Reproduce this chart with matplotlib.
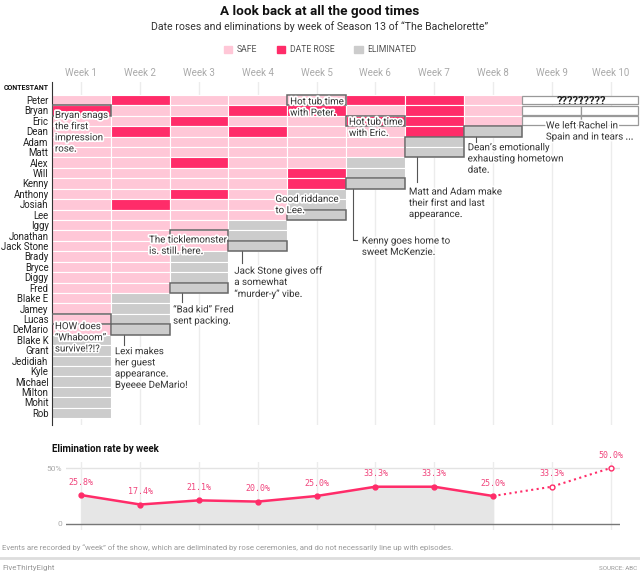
import matplotlib
matplotlib.use("Agg")
import matplotlib.pyplot as plt
import matplotlib.patheffects as pe
from matplotlib.patches import Patch, Rectangle

# =============================================================================
# Data
# =============================================================================

WEEKS = [f"Week {i}" for i in range(1, 11)]

CONTESTANTS = ["Peter", "Bryan", "Eric", "Dean", "Adam", "Matt", "Alex", "Will",
               "Kenny", "Anthony", "Josiah", "Lee", "Iggy", "Jonathan",
               "Jack Stone", "Brady", "Bryce", "Diggy", "Fred", "Blake E",
               "Jamey", "Lucas", "DeMario", "Blake K", "Grant", "Jedidiah",
               "Kyle", "Michael", "Milton", "Mohit", "Rob"]

# week each contestant was eliminated (None = still in after week 8)
ELIM_WEEK = [None, None, None, 8, 7, 7, 6, 6, 6, 5, 5, 5, 4, 4, 4, 3, 3, 3, 3,
             2, 2, 2, 2, 1, 1, 1, 1, 1, 1, 1, 1]

DATE_ROSES = {
    1: ["Bryan"],
    2: ["Peter", "Dean", "Josiah"],
    3: ["Eric", "Alex", "Anthony"],
    4: ["Bryan", "Dean"],
    5: ["Bryan", "Will", "Kenny"],
    6: ["Peter", "Eric"],
    7: ["Peter", "Bryan", "Eric", "Dean"],
    8: [],
}
LAST_KNOWN_WEEK = 8

ELIM_RATE = [25.8, 17.4, 21.1, 20.0, 25.0, 33.3, 33.3, 25.0, 33.3, 50.0]

# annotations: (week, contestant, n rows, text, text x, text y, leader)
NOTES = [
    (1, "Bryan", 1, "Bryan snags\nthe first\nimpression\nrose.", 0.05, 1.45, None),
    (1, "Lucas", 1, "HOW does\n\u201cWhaboom\u201d\nsurvive!?!?", 0.05, 21.7, None),
    (2, "DeMario", 1, "Lexi makes\nher guest\nappearance.\nByeeee DeMario!", 1.07, 24.1, (1.22, 24.0)),
    (3, "Jonathan", 1, "The ticklemonster\nis. still. here.", 1.65, 13.4, None),
    (3, "Fred", 1, "\u201cBad kid\u201d Fred\nsent packing.", 2.06, 20.1, (2.21, 19.9)),
    (4, "Jack Stone", 1, "Jack Stone gives off\na somewhat\n\u201cmurder-y\u201d vibe.", 3.1, 16.3, (3.23, 16.1)),
    (5, "Lee", 1, "Good riddance\nto Lee.", 3.8, 9.5, None),
    (5, "Peter", 1, "Hot tub time\nwith Peter.", 4.05, 0.15, None),
    (6, "Eric", 1, "Hot tub time\nwith Eric.", 5.05, 2.1, None),
    (6, "Kenny", 1, "Kenny goes home to\nsweet McKenzie.", 5.27, 13.5, (5.12, 13.9)),
    (7, "Adam", 2, "Matt and Adam make\ntheir first and last\nappearance.", 6.07, 8.8, (6.21, 8.4)),
    (8, "Dean", 1, "Dean\u2019s emotionally\nexhausting hometown\ndate.", 7.07, 4.55, (7.21, 4.5)),
]

# =============================================================================
# Styles
# =============================================================================

SAFE = "#ffc7d7"
ROSE = "#ff2c69"
ELIM = "#cccccc"
LINE = "#ff2c69"
TEXT = "#333333"
plt.rcParams["font.family"] = ["Roboto", "DejaVu Sans"]

W, H = 640, 576
fig = plt.figure(figsize=(W / 100, H / 100), dpi=100)


def fx(px):
    return px / W


def fy(py):
    return 1 - py / H


halo = [pe.withStroke(linewidth=2.5, foreground="white")]

# header
fig.text(0.5, fy(11), "A look back at all the good times", ha="center",
         va="center", fontsize=9.7, fontweight="bold", color="#111")
fig.text(0.5, fy(27), "Date roses and eliminations by week of Season 13 of "
         "\u201cThe Bachelorette\u201d", ha="center", va="center",
         fontsize=7.6, color="#333")
handles = [Patch(color=SAFE, label="SAFE"), Patch(color=ROSE, label="DATE ROSE"),
           Patch(color=ELIM, label="ELIMINATED")]
fig.legend(handles=handles, loc="center", bbox_to_anchor=(0.5, fy(50)), ncol=3,
           frameon=False, fontsize=6.2, handlelength=1.0, handleheight=1.0,
           columnspacing=2.3, handletextpad=0.5, labelcolor="#555")

# =============================================================================
# Grid of contestants x weeks
# =============================================================================

ax = fig.add_axes([fx(52), fy(425), fx(640 - 52), (425 - 82) / H])
ax.set_xlim(0, 10)
ax.set_ylim(31.66, -1.23)

for w in range(1, 11):
    for i, (name, e) in enumerate(zip(CONTESTANTS, ELIM_WEEK)):
        last = e if e else LAST_KNOWN_WEEK
        if w <= last:
            if w == e:
                color = ELIM
            elif name in DATE_ROSES[w]:
                color = ROSE
            else:
                color = SAFE
            ax.barh(i + 0.5, 1, left=w - 1, height=1, color=color,
                    edgecolor="white", linewidth=0.8, zorder=2)
        elif e is None:
            ax.barh(i + 0.5, 0.97 if w == 10 else 1, left=w - 1, height=0.85,
                    color="white", edgecolor="#999", linewidth=0.9, zorder=2)

ax.text(9.0, 0.55, "?????????", ha="center", va="center", fontsize=8,
        fontweight="bold", color="#222", zorder=5)
ax.text(8.4, 2.45, "We left Rachel in\nSpain and in tears ...", ha="left",
        va="top", fontsize=7, color=TEXT, linespacing=1.15, zorder=5,
        path_effects=halo)

for w, name, n, text, tx, ty, leader in NOTES:
    r = CONTESTANTS.index(name)
    ax.add_patch(Rectangle((w - 1, r), 1, n, fill=False, edgecolor="#666",
                           linewidth=1.1, zorder=4))
    if leader:
        lx, ly = leader
        if name == "Kenny":
            ax.plot([lx, lx, tx - 0.08], [r + n, ly, ly], color="#555", lw=0.8, zorder=3)
        else:
            ax.plot([lx, lx], [r + n, ly], color="#555", lw=0.8, zorder=3)
    ax.text(tx, ty, text, ha="left", va="top", fontsize=7, color=TEXT,
            linespacing=1.15, zorder=5, path_effects=halo)

ax.set_xticks([w + 0.5 for w in range(10)])
ax.set_xticklabels(WEEKS)
ax.xaxis.tick_top()
ax.tick_params(axis="x", length=0, pad=3, labelsize=7, labelcolor="#aaa")
ax.set_yticks([i + 0.5 for i in range(len(CONTESTANTS))])
ax.set_yticklabels(CONTESTANTS)
ax.tick_params(axis="y", length=0, pad=2.5, labelsize=6.9, labelcolor="#222")
ax.grid(axis="x", color="#ececec", linewidth=1)
ax.set_axisbelow(True)
for s in ["top", "right", "bottom"]:
    ax.spines[s].set_visible(False)
ax.spines["left"].set_color("#333")
fig.text(fx(49), fy(88), "CONTESTANT", ha="right", va="center", fontsize=5,
         fontweight="bold", color="#111")

# =============================================================================
# Elimination rate by week
# =============================================================================

colw = (640 - 52) / 10
bx0 = (66 - 52) / colw
bx1 = (620 - 52) / colw
ax2 = fig.add_axes([fx(66), fy(530), fx(620 - 66), (530 - 462) / H])
ax2.set_xlim(bx0, bx1)
ax2.set_ylim(-5.4, 55.4)
xs = [w + 0.5 for w in range(10)]
k = LAST_KNOWN_WEEK
ax2.fill_between(xs[:k], 0, ELIM_RATE[:k], color="#e6e6e6", zorder=1)
ax2.plot(xs[:k], ELIM_RATE[:k], color=LINE, lw=1.8, marker="o", ms=3.5, zorder=3)
ax2.plot(xs[k - 1:], ELIM_RATE[k - 1:], color=LINE, lw=1.5, ls=":", zorder=3)
ax2.plot(xs[k:], ELIM_RATE[k:], ls="none", marker="o", ms=3.5, mfc="white",
         mec=LINE, mew=1.0, zorder=4)
for x, v in zip(xs, ELIM_RATE):
    ax2.annotate(f"{v:.1f}%", (x, v), xytext=(0, 6), textcoords="offset points",
                 ha="center", va="bottom", fontsize=6, color="#f0457c",
                 family="DejaVu Sans Mono")
ax2.axhline(50, color="#e3e3e3", lw=1, zorder=0)
ax2.axhline(0, color="#777", lw=1, zorder=2)
ax2.set_xticks(xs)
ax2.set_xticklabels([])
ax2.set_yticks([0, 50])
ax2.set_yticklabels(["0", "50%"])
ax2.tick_params(length=0, pad=3, labelsize=6, labelcolor="#aaa")
ax2.grid(axis="x", color="#ececec", lw=1)
ax2.set_axisbelow(True)
for s in ax2.spines.values():
    s.set_visible(False)
fig.text(fx(52), fy(449), "Elimination rate by week", ha="left", va="center",
         fontsize=7, fontweight="bold", color="#111")

# footer
fig.text(fx(2), fy(548), "Events are recorded by \u201cweek\u201d of the show, which "
         "are deliminated by rose ceremonies, and do not necessarily line up with "
         "episodes.", ha="left", va="center", fontsize=5.6, color="#999")
fig.add_artist(plt.Line2D([0, 1], [fy(558), fy(558)], color="#ddd", lw=2))
fig.text(fx(2), fy(568), "FiveThirtyEight", ha="left", va="center",
         fontsize=5.8, color="#999")
fig.text(fx(637), fy(568), "SOURCE: ABC", ha="right", va="center",
         fontsize=4.5, color="#999")

fig.savefig("out.png", dpi=100)
print("Saved out.png")
